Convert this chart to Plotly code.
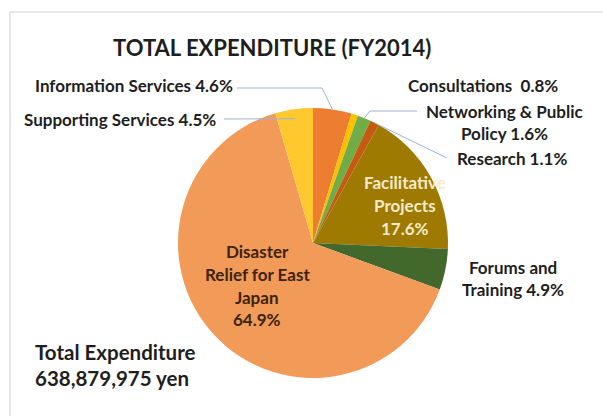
import math
import plotly.graph_objects as go

W, H = 603, 416

categories = [
    "Information Services",
    "Consultations",
    "Networking & Public Policy",
    "Research",
    "Facilitative Projects",
    "Forums and Training",
    "Disaster Relief for East Japan",
    "Supporting Services",
]
shares = [4.6, 0.8, 1.6, 1.1, 17.6, 4.9, 64.9, 4.5]
colors = ["#ED7D31", "#FFC000", "#70AD47", "#C55A11",
          "#9E7A00", "#43682B", "#F29A58", "#FFC82E"]
total_yen = 638879975

FONT = "Lato"
DARK = "#1E1E1E"
LEADER = "#9DB3D6"

# pie centre / radius in pixels (from top-left)
CX, CY, R = 313, 243, 135


def paper(x, y):
    return x / W, 1 - y / H


def edge(i, frac=1.0):
    """Point on slice i's mid-angle, frac of the radius out."""
    total = sum(shares)
    mid = (sum(shares[:i]) + shares[i] / 2) / total * 2 * math.pi
    return CX + frac * R * math.sin(mid), CY - frac * R * math.cos(mid)


fig = go.Figure(go.Pie(
    labels=categories,
    values=shares,
    sort=False,
    direction="clockwise",
    rotation=0,
    marker=dict(colors=colors, line=dict(width=0)),
    textinfo="none",
    hoverinfo="label+percent",
    showlegend=False,
    domain=dict(x=[(CX - R) / W, (CX + R) / W],
                y=[1 - (CY + R) / H, 1 - (CY - R) / H]),
))

shapes = []


def polyline(points):
    for (x0, y0), (x1, y1) in zip(points[:-1], points[1:]):
        a = paper(x0, y0)
        b = paper(x1, y1)
        shapes.append(dict(type="line", xref="paper", yref="paper",
                           x0=a[0], y0=a[1], x1=b[0], y1=b[1],
                           line=dict(color=LEADER, width=1)))


# leader lines
polyline([(237, 88), (322, 88), edge(0)])
polyline([(224, 119), edge(7, 0.93)])
polyline([(417, 111), (370, 111), edge(2)])
polyline([edge(3), (447, 158)])

# frame
a = paper(10, 12)
b = paper(W + 5, H + 5)
shapes.append(dict(type="rect", xref="paper", yref="paper",
                   x0=a[0], y0=b[1], x1=b[0], y1=a[1],
                   line=dict(color="#D4D4D4", width=1.2)))

annotations = []


def label(lines, x, y_first, anchor="center", size=17, color=DARK, dy=22):
    for k, txt in enumerate(lines):
        px_, py_ = paper(x, y_first + k * dy)
        annotations.append(dict(
            text=f"<b>{txt}</b>", x=px_, y=py_, xref="paper", yref="paper",
            xanchor=anchor, yanchor="middle", showarrow=False,
            font=dict(family=FONT, size=size, color=color)))


def pct(i):
    return f"{shares[i]:.1f}%"


label(["TOTAL EXPENDITURE (FY2014)"], 272, 47, size=22)
label([f"Information Services {pct(0)}"], 33, 86, anchor="left")
label([f"Supporting Services {pct(7)}"], 22, 120, anchor="left")
label([f"Consultations  {pct(1)}"], 406, 86, anchor="left")
label(["Networking & Public", f"Policy {pct(2)}"], 504, 112, dy=21)
label([f"Research {pct(3)}"], 455, 158, anchor="left")
label(["Forums and", f"Training {pct(5)}"], 513, 267, dy=22)
label(["Facilitative", "Projects", pct(4)], 405, 182, color="#F6EBCB", dy=23)
label(["Disaster", "Relief for East", "Japan", pct(6)], 257, 252,
      color="#3E230C", dy=22.5)
label(["Total Expenditure", f"{total_yen:,} yen"], 33, 352,
      anchor="left", size=20.5, dy=26)

fig.update_layout(
    width=W,
    height=H,
    margin=dict(l=0, r=0, t=0, b=0),
    paper_bgcolor="white",
    shapes=shapes,
    annotations=annotations,
)

fig.write_html("out.html", config={"displayModeBar": False},
               post_script="document.body.style.margin = '0';")
